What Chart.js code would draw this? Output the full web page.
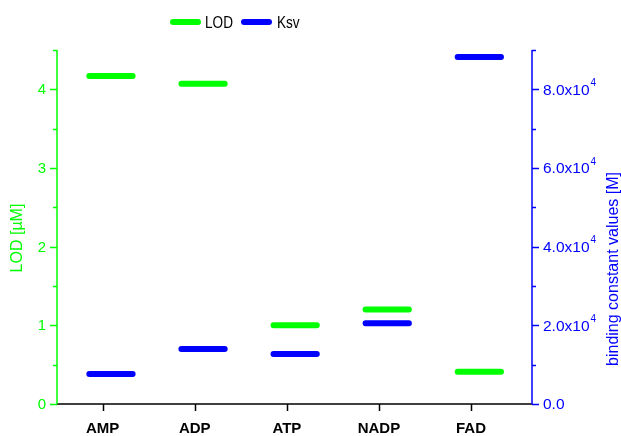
<!DOCTYPE html>
<html>
<head>
<meta charset="utf-8">
<script src="https://cdn.jsdelivr.net/npm/chart.js@4"></script>
<style>
  html, body { margin: 0; padding: 0; background: #fff; }
  canvas { display: block; }
</style>
</head>
<body>
<canvas id="grafica" width="621" height="436"></canvas>
<script>
// --------------------- DATOS ---------------------
const categorias = ['AMP', 'ADP', 'ATP', 'NADP', 'FAD'];
const valoresLOD = [4.17, 4.07, 1.0, 1.2, 0.41];          // uM
const valoresKsv = [7600, 14000, 12700, 20500, 88200];    // M^-1
const ticksLOD = [0, 1, 2, 3, 4];
const ticksKsv = [0, 20000, 40000, 60000, 80000];

// --------------------- ESTILO ---------------------
const VERDE = '#00ff00';
const AZUL = '#0000ff';
const FUENTE = '"Liberation Sans", Arial, sans-serif';
const medioAncho = 0.235;   // medio ancho de cada segmento (unidades de x)
const desfase = 0.09;       // corrimiento del segmento respecto al tick

// Cada valor se dibuja como un segmento horizontal
function segmentos(valores) {
  const puntos = [];
  valores.forEach((v, i) => {
    const c = i + 1 + desfase;
    puntos.push({ x: c - medioAncho, y: v });
    puntos.push({ x: c + medioAncho, y: v });
    puntos.push({ x: c + medioAncho, y: null });
  });
  return puntos;
}

// --------------------- EJES DIBUJADOS A MANO ---------------------
const ejesPlugin = {
  id: 'ejes',
  afterDraw(chart) {
    const ctx = chart.ctx;
    const a = chart.chartArea;
    const sx = chart.scales.x;
    const sy = chart.scales.y;
    const sy1 = chart.scales.y1;
    ctx.save();
    ctx.lineWidth = 1.5;

    // eje x
    ctx.strokeStyle = '#000';
    ctx.beginPath();
    ctx.moveTo(a.left, a.bottom);
    ctx.lineTo(a.right, a.bottom);
    categorias.forEach((c, i) => {
      const px = Math.round(sx.getPixelForValue(i + 1)) + 0.5;
      ctx.moveTo(px, a.bottom);
      ctx.lineTo(px, a.bottom + 7);
    });
    ctx.stroke();
    ctx.fillStyle = '#000';
    ctx.font = 'bold 15px ' + FUENTE;
    ctx.textAlign = 'center';
    ctx.textBaseline = 'middle';
    categorias.forEach((c, i) => {
      ctx.fillText(c, sx.getPixelForValue(i + 1), 429);
    });

    // eje izquierdo (LOD)
    ctx.strokeStyle = VERDE;
    ctx.beginPath();
    ctx.moveTo(a.left, a.top);
    ctx.lineTo(a.left, a.bottom);
    for (let v = 0; v <= sy.max + 1e-9; v += 0.5) {
      const py = Math.round(sy.getPixelForValue(v)) + 0.5;
      const largo = Number.isInteger(v) ? 7 : 4;
      ctx.moveTo(a.left, py);
      ctx.lineTo(a.left - largo, py);
    }
    ctx.stroke();
    ctx.fillStyle = VERDE;
    ctx.font = '15px ' + FUENTE;
    ctx.textAlign = 'right';
    ctx.textBaseline = 'middle';
    ticksLOD.forEach(v => {
      ctx.fillText(String(v), a.left - 11, sy.getPixelForValue(v) + 1);
    });
    ctx.save();
    ctx.translate(18, 238);
    ctx.rotate(-Math.PI / 2);
    ctx.textAlign = 'center';
    ctx.font = '16px ' + FUENTE;
    ctx.fillText('LOD [\u00b5M]', 0, 0);
    ctx.restore();

    // eje derecho (Ksv)
    ctx.strokeStyle = AZUL;
    ctx.beginPath();
    ctx.moveTo(a.right, a.top);
    ctx.lineTo(a.right, a.bottom);
    for (let v = 0; v <= sy1.max + 1; v += 10000) {
      const py = Math.round(sy1.getPixelForValue(v)) + 0.5;
      const largo = (v % 20000 === 0) ? 7 : 4;
      ctx.moveTo(a.right, py);
      ctx.lineTo(a.right + largo, py);
    }
    ctx.stroke();
    ctx.fillStyle = AZUL;
    ctx.textAlign = 'left';
    ctx.textBaseline = 'middle';
    ticksKsv.forEach(v => {
      const py = sy1.getPixelForValue(v) + 1;
      const x0 = a.right + 11;
      ctx.font = '15.5px ' + FUENTE;
      if (v === 0) {
        ctx.fillText('0.0', x0, py);
        return;
      }
      const base = (v / 1e4).toFixed(1) + 'x10';
      ctx.fillText(base, x0, py);
      const w = ctx.measureText(base).width;
      ctx.font = '10px ' + FUENTE;
      ctx.fillText('4', x0 + w + 1, py - 7);
    });
    ctx.save();
    ctx.translate(614, 269);
    ctx.rotate(-Math.PI / 2);
    ctx.textAlign = 'center';
    ctx.font = '16px ' + FUENTE;
    ctx.fillText('binding constant values [M]', 0, 0);
    ctx.restore();

    // leyenda (texto algo condensado como en el original)
    ctx.lineCap = 'round';
    ctx.lineWidth = 6;
    ctx.fillStyle = '#000';
    ctx.textAlign = 'left';
    ctx.textBaseline = 'middle';
    [['LOD', VERDE, 173, 205], ['Ksv', AZUL, 244, 277]].forEach(([t, col, x0, xt]) => {
      ctx.strokeStyle = col;
      ctx.beginPath();
      ctx.moveTo(x0, 22);
      ctx.lineTo(x0 + 25, 22);
      ctx.stroke();
      ctx.save();
      ctx.translate(xt, 23);
      ctx.scale(0.8, 1);
      ctx.font = '17px ' + FUENTE;
      ctx.fillText(t, 0, 0);
      ctx.restore();
    });
    ctx.restore();
  }
};

// --------------------- GRAFICA ---------------------
new Chart(document.getElementById('grafica'), {
  type: 'line',
  data: {
    datasets: [
      {
        label: 'LOD',
        data: segmentos(valoresLOD),
        yAxisID: 'y',
        borderColor: VERDE,
        borderWidth: 6,
        borderCapStyle: 'round',
        pointRadius: 0,
        spanGaps: false
      },
      {
        label: 'Ksv',
        data: segmentos(valoresKsv),
        yAxisID: 'y1',
        borderColor: AZUL,
        borderWidth: 6,
        borderCapStyle: 'round',
        pointRadius: 0,
        spanGaps: false
      }
    ]
  },
  options: {
    responsive: false,
    animation: false,
    layout: { padding: { left: 57, right: 89, top: 50, bottom: 32 } },
    plugins: {
      legend: { display: false },
      tooltip: { enabled: false }
    },
    scales: {
      x: { type: 'linear', min: 0.504, max: 5.662, display: false },
      y: { type: 'linear', min: 0, max: 4.5, display: false },
      y1: { type: 'linear', min: 0, max: 90000, display: false }
    }
  },
  plugins: [ejesPlugin]
});
</script>
</body>
</html>
